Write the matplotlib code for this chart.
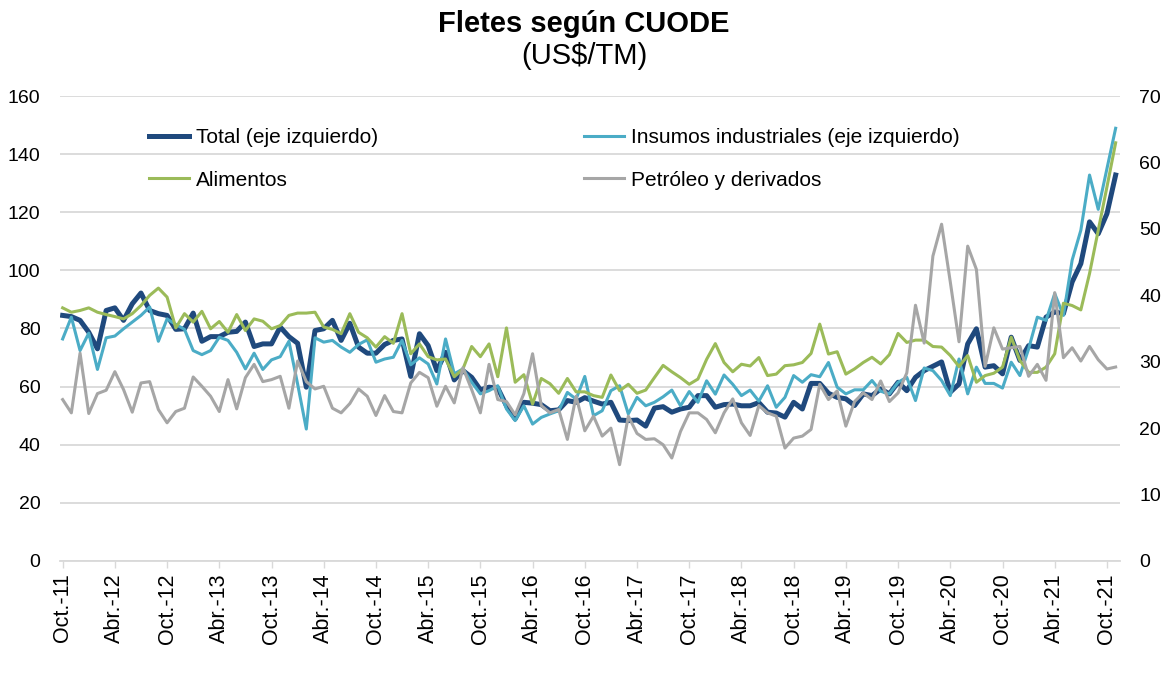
import matplotlib
matplotlib.use('Agg')
import matplotlib.pyplot as plt
import numpy as np

plt.rcParams['font.family'] = ['Liberation Sans', 'DejaVu Sans']

# Monthly series, Oct-11 .. Nov-21 (US$/TM)
total = [84.5, 84.1, 82.8, 78.7, 73.0, 86.2, 87.1, 82.8, 88.5, 92.2,
         86.2, 85.1, 84.5, 79.7, 79.9, 85.3, 75.6, 77.2, 77.2, 78.7,
         79.0, 82.2, 73.8, 74.7, 74.7, 80.5, 77.2, 74.9, 59.8, 79.3,
         79.9, 82.8, 75.9, 81.8, 73.6, 71.5, 71.5, 74.5, 75.9, 76.4,
         63.5, 78.2, 74.1, 65.5, 71.8, 62.3, 65.5, 63.2, 58.9, 59.8,
         59.5, 53.4, 48.9, 54.6, 54.3, 53.8, 51.7, 52.0, 55.2, 54.6,
         56.2, 55.0, 54.0, 54.6, 48.5, 48.3, 48.5, 46.4, 52.6, 53.1,
         51.2, 52.3, 52.9, 56.9, 56.9, 52.9, 53.8, 54.0, 53.4, 53.4,
         54.5, 51.2, 50.9, 49.5, 54.6, 52.3, 61.1, 61.1, 57.7, 56.3,
         55.8, 53.5, 57.5, 56.9, 59.2, 57.5, 61.5, 58.6, 63.2, 65.5,
         67.0, 68.5, 58.1, 60.9, 74.7, 79.9, 66.7, 67.2, 64.4, 77.0,
         69.0, 74.1, 73.6, 83.9, 85.7, 85.1, 96.0, 102.3, 116.7, 112.6,
         119.5, 132.8]

insumos = [76.4, 83.9, 72.4, 78.4, 65.9, 76.8, 77.4, 79.9, 82.2, 84.5,
           87.4, 75.6, 83.3, 81.4, 79.7, 72.4, 71.0, 72.4, 77.0, 75.9,
           71.8, 66.1, 71.5, 65.9, 69.2, 70.3, 75.6, 60.9, 45.4, 76.8,
           75.3, 75.9, 73.6, 71.8, 74.5, 76.1, 68.4, 69.5, 70.1, 75.9,
           67.5, 69.9, 67.8, 60.9, 76.4, 64.4, 66.1, 61.5, 57.5, 58.6,
           60.3, 52.3, 48.3, 53.4, 47.1, 49.4, 50.6, 51.7, 58.0, 55.7,
           63.5, 50.0, 51.7, 58.6, 60.3, 50.6, 56.3, 53.4, 54.6, 56.5,
           58.8, 53.4, 58.3, 54.6, 62.0, 57.4, 64.0, 60.8, 56.9, 58.8,
           55.0, 60.3, 52.9, 56.3, 63.8, 61.5, 64.1, 63.4, 68.3, 59.8,
           57.5, 58.9, 58.9, 62.1, 58.4, 57.5, 61.5, 63.2, 55.2, 66.4,
           65.5, 62.1, 56.9, 69.5, 57.5, 66.7, 61.1, 61.1, 59.5, 68.4,
           63.8, 73.0, 83.9, 82.8, 92.0, 84.5, 103.5, 113.8, 132.8, 121.0,
           135.0, 148.9]

alimentos = [87.1, 85.6, 86.2, 87.1, 85.6, 84.8, 84.1, 83.3, 85.1, 87.9,
             91.4, 93.9, 90.8, 80.2, 85.1, 82.2, 85.9, 79.9, 82.4, 78.7,
             84.8, 79.3, 83.3, 82.5, 79.9, 81.0, 84.5, 85.3, 85.3, 85.6,
             80.5, 79.7, 78.2, 85.1, 78.7, 76.8, 73.6, 77.2, 74.9, 85.1,
             71.3, 74.7, 70.3, 69.2, 69.5, 63.4, 66.1, 73.8, 70.3, 74.7,
             63.4, 80.2, 61.5, 64.1, 54.0, 62.8, 61.0, 57.7, 62.8, 58.2,
             58.2, 56.9, 56.3, 64.0, 58.6, 60.8, 57.7, 58.8, 63.1, 67.3,
             65.1, 63.1, 60.8, 62.6, 69.4, 74.8, 68.3, 65.1, 67.7, 67.1,
             70.0, 63.8, 64.3, 67.2, 67.5, 68.3, 71.4, 81.5, 71.2, 72.0,
             64.3, 66.1, 68.3, 70.1, 67.8, 71.0, 78.3, 75.2, 76.0, 76.0,
             73.8, 73.6, 70.7, 66.9, 70.7, 61.5, 63.8, 64.6, 66.7, 77.0,
             69.0, 64.9, 64.9, 66.7, 71.3, 88.7, 87.9, 86.4, 98.9, 113.8,
             128.7, 143.9]

# right axis
petroleo = [24.3, 22.3, 31.3, 22.2, 25.2, 25.7, 28.5, 25.8, 22.4, 26.8,
            27.0, 22.8, 20.8, 22.5, 23.0, 27.7, 26.3, 24.8, 22.5, 27.3,
            22.9, 27.6, 29.6, 27.0, 27.3, 27.8, 23.0, 30.1, 27.0, 25.9,
            26.3, 23.0, 22.3, 23.7, 25.9, 24.8, 21.9, 24.9, 22.5, 22.3,
            26.8, 28.4, 27.6, 23.3, 26.3, 23.8, 29.1, 25.8, 22.3, 29.6,
            24.3, 24.0, 22.0, 25.2, 31.2, 23.4, 22.3, 22.8, 18.3, 24.8,
            19.6, 21.8, 18.8, 20.0, 14.5, 21.8, 19.2, 18.3, 18.4, 17.5,
            15.5, 19.5, 22.3, 22.3, 21.3, 19.3, 22.3, 24.4, 20.8, 18.9,
            23.4, 22.3, 21.8, 17.0, 18.5, 18.8, 19.8, 26.6, 24.3, 25.6,
            20.3, 24.0, 25.3, 24.3, 27.1, 24.0, 25.3, 28.3, 38.5, 32.8,
            45.9, 50.7, 42.0, 33.0, 47.4, 43.9, 29.3, 35.1, 31.9, 32.1,
            32.3, 27.8, 29.6, 27.2, 40.4, 30.6, 32.1, 30.1, 32.3, 30.3,
            28.9, 29.2]

tick_labels = ['Oct.-11', 'Abr.-12', 'Oct.-12', 'Abr.-13', 'Oct.-13', 'Abr.-14',
               'Oct.-14', 'Abr.-15', 'Oct.-15', 'Abr.-16', 'Oct.-16', 'Abr.-17',
               'Oct.-17', 'Abr.-18', 'Oct.-18', 'Abr.-19', 'Oct.-19', 'Abr.-20',
               'Oct.-20', 'Abr.-21', 'Oct.-21']

x = np.arange(len(total))
grid_col = '#d9d9d9'

fig = plt.figure(figsize=(11.68, 6.78), dpi=100)
ax = fig.add_axes([0.0514, 0.1726, 0.9075, 0.6858])
ax2 = ax.twinx()

ax.plot(x, total, color='#1f497d', lw=3.6, label='Total (eje izquierdo)')
ax.plot(x, insumos, color='#4bacc6', lw=2.2, label='Insumos industriales (eje izquierdo)')
ax.plot(x, alimentos, color='#9bbb59', lw=2.2, label='Alimentos')
ax2.plot(x, petroleo, color='#a6a6a6', lw=2.2, label='Petróleo y derivados')

ax.set_ylim(0, 160)
ax.set_yticks(np.arange(0, 161, 20))
ax2.set_ylim(0, 70)
ax2.set_yticks(np.arange(0, 71, 10))
ax.set_xlim(-0.3, 121.5)
ax.set_xticks(np.arange(0, 121, 6))
ax.set_xticklabels(tick_labels, rotation=90, fontsize=15.5)

ax.grid(axis='y', color=grid_col, lw=1.3)
ax.set_axisbelow(True)
for a in (ax, ax2):
    for s in ['top', 'left', 'right', 'bottom']:
        a.spines[s].set_visible(False)
ax.spines['bottom'].set_visible(True)
ax.spines['bottom'].set_color(grid_col)
ax.spines['bottom'].set_linewidth(1.3)
ax.tick_params(axis='x', length=5, width=1, color=grid_col, pad=4)
ax.tick_params(axis='y', length=0, pad=14, labelsize=14)
ax2.tick_params(axis='y', length=0, pad=14, labelsize=14)

fig.text(0.5, 0.965, 'Fletes según CUODE', ha='center', va='center',
         fontsize=21, fontweight='bold')
fig.text(0.5, 0.918, '(US$/TM)', ha='center', va='center', fontsize=21)

h1, l1 = ax.get_legend_handles_labels()
h2, l2 = ax2.get_legend_handles_labels()
handles = [h1[0], h1[2], h1[1], h2[0]]
labels = [l1[0], l1[2], l1[1], l2[0]]
fig.legend(handles, labels, ncol=2, frameon=False, fontsize=15,
           loc='upper left', bbox_to_anchor=(0.1205, 0.823),
           handlelength=1.9, handletextpad=0.35, columnspacing=9.9,
           labelspacing=1.12, borderaxespad=0)

fig.savefig('out.png', dpi=100)
